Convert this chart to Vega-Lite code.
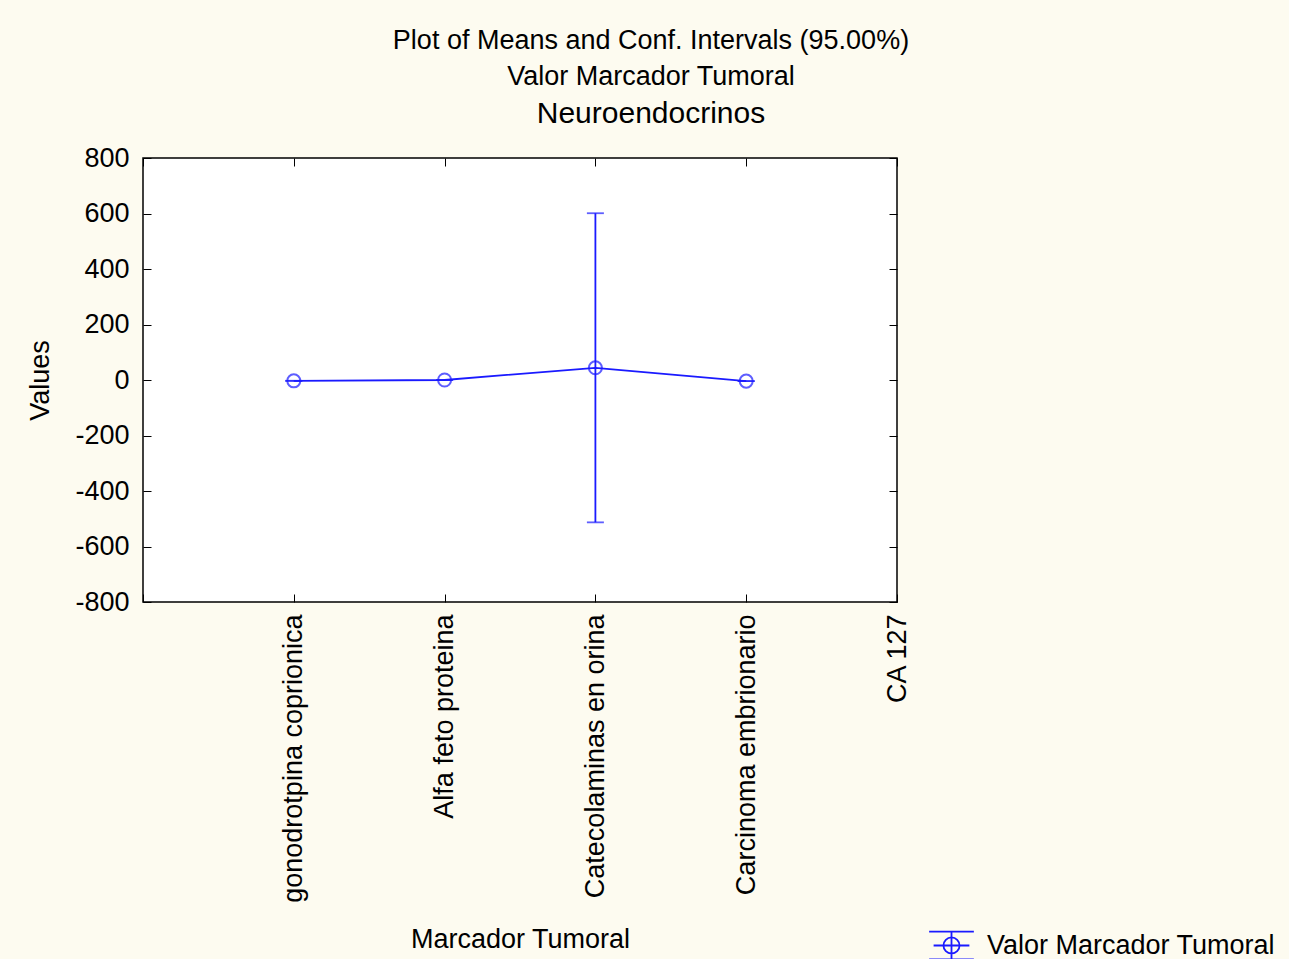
{
  "$schema": "https://vega.github.io/schema/vega-lite/v6.json",
  "autosize": "none",
  "width": 754,
  "height": 444,
  "padding": {"left": 143, "top": 158, "right": 392, "bottom": 357},
  "background": "#fdfbf0",
  "config": {
    "font": "Liberation Sans",
    "view": {"fill": "white", "stroke": "black", "strokeWidth": 1.5},
    "axis": {
      "labelFontSize": 27,
      "labelColor": "black",
      "labelLimit": 0,
      "titleFontSize": 27,
      "titleFontWeight": "normal",
      "titleColor": "black",
      "tickSize": -8,
      "tickColor": "black",
      "tickWidth": 1,
      "domain": false,
      "grid": false
    }
  },
  "title": {
    "text": ["Plot of Means and Conf. Intervals (95.00%)", "Valor Marcador Tumoral"],
    "subtitle": "Neuroendocrinos",
    "anchor": "middle",
    "dx": 131,
    "fontSize": 27,
    "fontWeight": "normal",
    "lineHeight": 36,
    "subtitleFontSize": 30,
    "subtitleColor": "black",
    "subtitlePadding": 8,
    "offset": 14,
    "color": "black"
  },
  "data": {
    "values": [
      {"marker": "gonodrotpina coprionica", "mean": -3, "lo": -3, "hi": -3, "series": "Valor Marcador Tumoral"},
      {"marker": "Alfa feto proteina", "mean": 0, "lo": 0, "hi": 0, "series": "Valor Marcador Tumoral"},
      {"marker": "Catecolaminas en orina", "mean": 44, "lo": -513, "hi": 601, "series": "Valor Marcador Tumoral"},
      {"marker": "Carcinoma embrionario", "mean": -4, "lo": -4, "hi": -4, "series": "Valor Marcador Tumoral"}
    ]
  },
  "layer": [
    {
      "encoding": {
        "x": {
          "field": "marker",
          "type": "nominal",
          "sort": null,
          "title": "Marcador Tumoral",
          "scale": {"type": "point", "padding": 0, "domain": [" ", "gonodrotpina coprionica", "Alfa feto proteina", "Catecolaminas en orina", "Carcinoma embrionario", "CA 127"]},
          "axis": {"title": "Marcador Tumoral", "labelAngle": 270, "labelPadding": 20, "titlePadding": 124}
        }
      },
      "layer": [
        {
          "mark": {"type": "rule", "color": "#1a1aff", "strokeWidth": 1.8},
          "encoding": {
            "y": {
              "field": "lo", "type": "quantitative", "title": "Values",
              "scale": {"domain": [-800, 800], "nice": false, "zero": false},
              "axis": {"title": "Values", "values": [-800, -600, -400, -200, 0, 200, 400, 600, 800], "labelExpr": "toString(datum.value)", "labelPadding": 22, "titlePadding": 20}
            },
            "y2": {"field": "hi"}
          }
        },
        {
          "mark": {"type": "tick", "color": "#1a1aff", "size": 17, "thickness": 1.8},
          "encoding": {
            "y": {
              "field": "lo", "type": "quantitative", "title": "Values",
              "scale": {"domain": [-800, 800], "nice": false, "zero": false},
              "axis": {"title": "Values", "values": [-800, -600, -400, -200, 0, 200, 400, 600, 800], "labelExpr": "toString(datum.value)", "labelPadding": 22, "titlePadding": 20}
            }
          }
        },
        {
          "mark": {"type": "tick", "color": "#1a1aff", "size": 17, "thickness": 1.8},
          "encoding": {
            "y": {
              "field": "hi", "type": "quantitative", "title": "Values",
              "scale": {"domain": [-800, 800], "nice": false, "zero": false},
              "axis": {"title": "Values", "values": [-800, -600, -400, -200, 0, 200, 400, 600, 800], "labelExpr": "toString(datum.value)", "labelPadding": 22, "titlePadding": 20}
            }
          }
        },
        {
          "mark": {"type": "line", "strokeWidth": 1.8},
          "encoding": {
            "y": {
              "field": "mean", "type": "quantitative", "title": "Values",
              "scale": {"domain": [-800, 800], "nice": false, "zero": false},
              "axis": {"title": "Values", "values": [-800, -600, -400, -200, 0, 200, 400, 600, 800], "labelExpr": "toString(datum.value)", "labelPadding": 22, "titlePadding": 20}
            },
            "color": {
              "field": "series",
              "type": "nominal",
              "scale": {"range": ["#1a1aff"]},
              "legend": {
                "title": null,
                "orient": "none",
                "legendX": 785,
                "legendY": 764,
                "labelFontSize": 27,
                "labelColor": "black",
                "labelLimit": 0,
                "symbolType": "M-1,-0.62H1M-1,0.62H1M-0.8,0H0.8M0,-0.62V0.62M0.36,0A0.36,0.36 0 1 1 -0.36,0A0.36,0.36 0 1 1 0.36,0",
                "symbolSize": 2000,
                "symbolStrokeWidth": 1.8,
                "symbolFillColor": "transparent",
                "labelOffset": 12
              }
            }
          }
        },
        {
          "mark": {"type": "point", "shape": "circle", "filled": false, "size": 170, "strokeWidth": 2, "color": "#1a1aff"},
          "encoding": {
            "y": {
              "field": "mean", "type": "quantitative", "title": "Values",
              "scale": {"domain": [-800, 800], "nice": false, "zero": false},
              "axis": {"title": "Values", "values": [-800, -600, -400, -200, 0, 200, 400, 600, 800], "labelExpr": "toString(datum.value)", "labelPadding": 22, "titlePadding": 20}
            }
          }
        }
      ]
    },
    {
      "mark": {"type": "point", "opacity": 0},
      "encoding": {
        "y": {
          "field": "mean",
          "type": "quantitative",
          "axis": {
            "orient": "right",
            "title": null,
            "labels": false,
            "values": [-800, -600, -400, -200, 0, 200, 400, 600, 800]
          }
        },
        "x": {
          "field": "marker",
          "type": "nominal",
          "sort": null,
          "axis": {"orient": "top", "title": null, "labels": false}
        }
      }
    }
  ],
  "resolve": {"axis": {"y": "independent", "x": "independent"}}
}
